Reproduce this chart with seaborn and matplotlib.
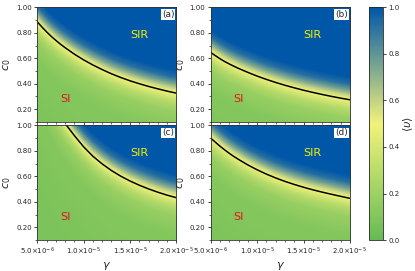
import numpy as np
import matplotlib
matplotlib.use('Agg')
import matplotlib.pyplot as plt
import seaborn as sns
from matplotlib.colors import LinearSegmentedColormap
from matplotlib.ticker import MultipleLocator, FixedLocator

# boundary curve (black line) read at these gamma values
gamma = np.array([5.0, 5.5, 6.0, 6.5, 7.0, 7.5, 8.0, 9.0, 10.0, 11.0, 12.0,
                  13.0, 14.0, 15.0, 16.0, 17.0, 18.0, 19.0, 20.0]) * 1e-6
c0_a = [0.885, 0.845, 0.807, 0.772, 0.740, 0.710, 0.683, 0.632, 0.587, 0.547,
        0.511, 0.478, 0.449, 0.423, 0.400, 0.379, 0.360, 0.342, 0.326]
c0_b = [0.645, 0.620, 0.596, 0.574, 0.555, 0.537, 0.520, 0.489, 0.460, 0.434,
        0.410, 0.388, 0.368, 0.349, 0.332, 0.316, 0.301, 0.287, 0.274]
c0_c = [1.45, 1.36, 1.28, 1.20, 1.13, 1.07, 1.015, 0.920, 0.832, 0.758,
        0.698, 0.646, 0.602, 0.564, 0.531, 0.502, 0.476, 0.453, 0.433]
c0_d = [0.900, 0.868, 0.837, 0.808, 0.781, 0.756, 0.733, 0.690, 0.652, 0.618,
        0.588, 0.561, 0.537, 0.515, 0.495, 0.477, 0.460, 0.444, 0.428]

# <v> across the boundary (offset in c0 from the black line)
offset = [-0.9, -0.3, -0.15, -0.08, -0.035, 0.0, 0.03, 0.07, 0.12, 0.18, 0.9]
v_profile = [0.08, 0.11, 0.18, 0.28, 0.4, 0.5, 0.58, 0.75, 0.92, 1.0, 1.0]

panels = ['(a)', '(b)', '(c)', '(d)']
curves = [c0_a, c0_b, c0_c, c0_d]
xticks = [5e-6, 1e-5, 1.5e-5, 2e-5]
xticklabels = [r'$5.0{\times}10^{-6}$', r'$1.0{\times}10^{-5}$',
               r'$1.5{\times}10^{-5}$', r'$2.0{\times}10^{-5}$']

sns.set_style('ticks')
plt.rcParams['font.family'] = ['DejaVu Sans']

cmap = LinearSegmentedColormap.from_list('gyb', ['#66bb55', '#f2f27a', '#0057a8'])

fig = plt.figure(figsize=(4.15, 2.71), dpi=100)
pos = [
    [0.090, 0.550, 0.335, 0.423],
    [0.508, 0.550, 0.335, 0.423],
    [0.090, 0.114, 0.335, 0.423],
    [0.508, 0.114, 0.335, 0.423],
]

gg = np.linspace(5e-6, 2e-5, 300)
cc = np.linspace(0.1, 1.0, 300)

for k in range(4):
    ax = fig.add_axes(pos[k])
    bnd = np.interp(gg, gamma, curves[k])
    d = cc[:, None] - bnd[None, :]
    field = np.interp(d, offset, v_profile)
    im = ax.imshow(field, origin='lower', extent=[5e-6, 2e-5, 0.1, 1.0],
                   aspect='auto', cmap=cmap, vmin=0, vmax=1, interpolation='bilinear')
    sns.lineplot(x=gamma, y=curves[k], color='black', linewidth=1.1, ax=ax)
    ax.set_xlim(5e-6, 2e-5)
    ax.set_ylim(0.1, 1.0)

    ax.text(1.6e-5, 0.78, 'SIR', color='#f2f200', fontsize=8, ha='center', va='center')
    ax.text(8.0e-6, 0.28, 'SI', color='#e8141e', fontsize=8, ha='center', va='center')
    ax.text(0.985, 0.975, panels[k], transform=ax.transAxes, ha='right', va='top',
            fontsize=6.5, bbox=dict(facecolor='white', edgecolor='none', pad=0.6))

    ax.yaxis.set_major_locator(FixedLocator([0.2, 0.4, 0.6, 0.8, 1.0]))
    ax.yaxis.set_minor_locator(MultipleLocator(0.1))
    ax.set_yticklabels(['0.20', '0.40', '0.60', '0.80', '1.00'])
    ax.xaxis.set_major_locator(FixedLocator(xticks))
    ax.xaxis.set_minor_locator(MultipleLocator(1e-6))
    ax.tick_params(which='major', length=2.5, width=0.6, labelsize=5, pad=1.5)
    ax.tick_params(which='minor', length=1.5, width=0.5)
    ax.set_ylabel(r'$c_0$', fontsize=8, labelpad=2)
    if k >= 2:
        ax.set_xticklabels(xticklabels)
        ax.set_xlabel(r'$\gamma$', fontsize=8, labelpad=2)
    else:
        ax.set_xticklabels([])
    for s in ax.spines.values():
        s.set_linewidth(0.6)
        s.set_color('#333333')
    if ax.get_legend() is not None:
        ax.get_legend().remove()

cax = fig.add_axes([0.889, 0.114, 0.034, 0.859])
cb = fig.colorbar(im, cax=cax)
cb.set_ticks([0.0, 0.2, 0.4, 0.6, 0.8, 1.0])
cb.ax.tick_params(labelsize=5, length=2.5, width=0.6, pad=1.5)
cb.outline.set_linewidth(0.6)
cb.set_label(r'$\langle \upsilon \rangle$', fontsize=8, labelpad=1)

fig.savefig('out.png', dpi=100)
